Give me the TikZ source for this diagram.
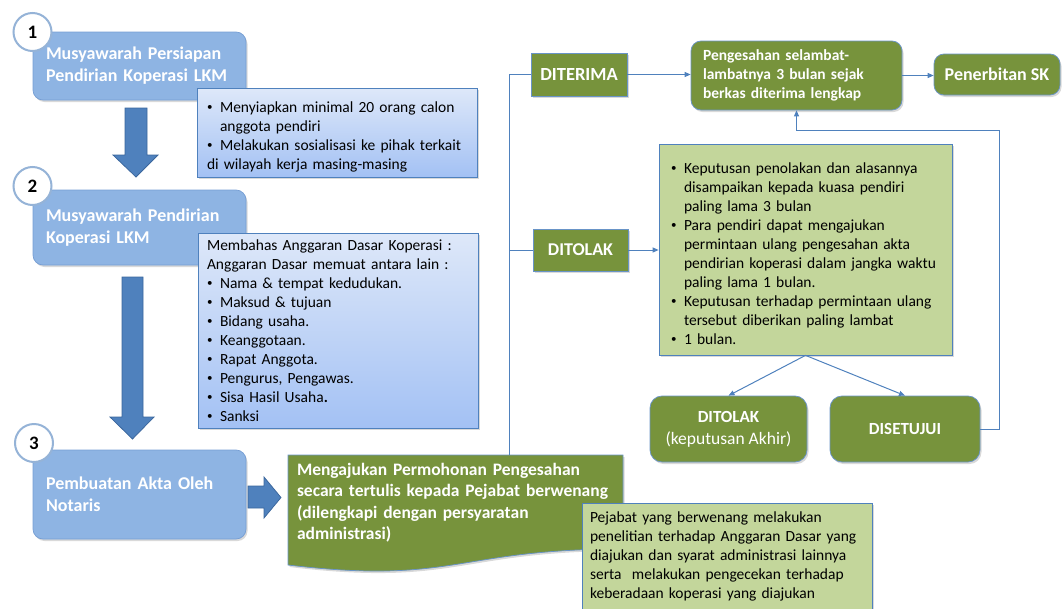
\documentclass[tikz,border=0pt]{standalone}
\usepackage{fontspec}
\setmainfont{Carlito}
\usetikzlibrary{arrows.meta,shadows}

\definecolor{boxblue}{RGB}{142,180,227}
\definecolor{boxblueline}{RGB}{118,158,212}
\definecolor{arrblue}{RGB}{79,129,189}
\definecolor{arrblueline}{RGB}{58,102,156}
\definecolor{olive}{RGB}{119,147,60}
\definecolor{palegreen}{RGB}{195,214,155}
\definecolor{linkblue}{RGB}{79,129,189}
\definecolor{desctop}{RGB}{222,232,249}
\definecolor{descbot}{RGB}{163,193,244}
\definecolor{ringblue}{RGB}{149,179,215}

% butir dengan indentasi gantung; \newline di dalam butir
\newcommand{\itm}{\par\hangindent=13pt\hangafter=1\noindent\makebox[13pt][l]{\raisebox{0.12em}{\fontsize{11}{11}\selectfont\textbullet}}}

\tikzset{every picture/.style={line width=0.75pt}}
\tikzset{
  bayang/.style={drop shadow={shadow xshift=1.5pt,shadow yshift=-2pt,opacity=0.3}},
  stepbox/.style={rounded corners=10pt, draw=boxblueline, fill=boxblue, text=white, align=left,
    inner xsep=13pt, text width=187pt, font=\bfseries\fontsize{18}{22}\selectfont, bayang},
  numcircle/.style={circle, draw=ringblue, line width=2pt, fill=white, minimum size=38pt,
    inner sep=0pt, font=\bfseries\fontsize{19}{19}\selectfont},
  descbox/.style={draw=linkblue, top color=desctop, bottom color=descbot, align=left,
    inner xsep=10pt, font=\fontsize{15.5}{19}\selectfont, bayang},
  notebox/.style={draw=linkblue, fill=palegreen, align=left, font=\fontsize{15.5}{19}\selectfont, bayang},
  okbox/.style={draw=linkblue!85, fill=olive, text=white, align=center,
    font=\bfseries\fontsize{18}{22}\selectfont, bayang},
  blockarrow/.style={fill=arrblue, draw=arrblueline},
  konektor/.style={draw=linkblue, line width=1pt},
  panah/.style={konektor, -{Triangle[length=6pt,width=5pt]}}
}

\begin{document}
\begin{tikzpicture}[x=1pt,y=-1pt]
\useasboundingbox (0,0) rectangle (1063,608);

% Langkah 1
\node[stepbox, minimum height=68pt] (musy1) at (139.5,66) {Musyawarah Persiapan\\Pendirian Koperasi LKM};
\node[descbox, text width=260pt, minimum height=89pt] (siap) at (337,132.5)
  {\itm Menyiapkan minimal 20 orang calon\newline anggota pendiri\itm Melakukan sosialisasi ke pihak terkait\newline di wilayah kerja masing-masing};

% Langkah 2
\node[stepbox, minimum height=75pt] (musy2) at (139.5,227.5) {Musyawarah Pendirian\\Koperasi LKM};
\node[descbox, text width=262pt, inner xsep=9pt, minimum height=195pt] (ad) at (338,330.5)
  {Membahas Anggaran Dasar Koperasi :\\Anggaran Dasar memuat antara lain :\itm Nama \& tempat kedudukan.\itm Maksud \& tujuan\itm Bidang usaha.\itm Keanggotaan.\itm Rapat Anggota.\itm Pengurus, Pengawas.\itm Sisa Hasil Usaha\textbf{.}\itm Sanksi};

% Langkah 3
\node[stepbox, minimum height=89pt] (akta) at (139.5,494.5) {Pembuatan Akta Oleh\\Notaris};

% Nomor
\node[numcircle] (n1) at (32.5,32) {1};
\node[numcircle] (n2) at (32.5,186) {2};
\node[numcircle] (n3) at (34,443) {3};

%Block Arrows
\draw[blockarrow] (125,108) -- (147,108) -- (147,155) -- (158,155) -- (136,177) -- (113,155) -- (125,155) -- cycle;
\draw[blockarrow] (122,277) -- (143,277) -- (143,417) -- (154,417) -- (132.5,439) -- (110,417) -- (122,417) -- cycle;
\draw[blockarrow] (248,486) -- (264,486) -- (264,477) -- (281,497.5) -- (264,518) -- (264,508) -- (248,508) -- cycle;

% Permohonan (document shape)
\draw[fill=olive, draw=linkblue!85, bayang] (288,455) -- (623,455) -- (623,549) .. controls (455.5,549) and (455.5,585) .. (288,565) -- cycle;
\node[text=white, align=left, text width=317pt, inner xsep=9pt, minimum height=95pt,
  font=\bfseries\fontsize{17.5}{21.5}\selectfont] (ajuan) at (455.5,502.5)
  {Mengajukan Permohonan Pengesahan\\secara tertulis kepada Pejabat berwenang\\(dilengkapi dengan persyaratan\\administrasi)};
\node[notebox, text width=274pt, inner xsep=8pt, minimum height=106pt] (teliti) at (727,556)
  {Pejabat yang berwenang melakukan\\penelitian terhadap Anggaran Dasar yang\\diajukan dan syarat administrasi lainnya\\serta~ melakukan pengecekan terhadap\\keberadaan koperasi yang diajukan};

% Keputusan
\node[okbox, minimum width=96pt, minimum height=43pt, font=\bfseries\fontsize{18.5}{22}\selectfont] (diterima) at (579,74.5) {DITERIMA};
\node[okbox, rounded corners=10pt, align=left, text width=187pt, inner xsep=12pt, minimum height=69pt,
  font=\bfseries\fontsize{15.5}{19}\selectfont] (sah) at (796.5,75.5)
  {Pengesahan selambat-\\lambatnya 3 bulan sejak\\berkas diterima lengkap};
\node[okbox, rounded corners=10pt, minimum width=126pt, minimum height=41pt] (sk) at (997,74.5) {Penerbitan SK};
\node[okbox, minimum width=95pt, minimum height=42pt] (tolak) at (580.5,250) {DITOLAK};
\node[notebox, text width=269pt, inner xsep=12pt, minimum height=211pt] (info) at (805.5,249.5)
  {\itm Keputusan penolakan dan alasannya\newline disampaikan kepada kuasa pendiri\newline paling lama 3 bulan\itm Para pendiri dapat mengajukan\newline permintaan ulang pengesahan akta\newline pendirian koperasi dalam jangka waktu\newline paling lama 1 bulan.\itm Keputusan terhadap permintaan ulang\newline tersebut diberikan paling lambat\itm 1 bulan.};
\node[okbox, rounded corners=12pt, minimum width=157pt, minimum height=66pt,
  font=\bfseries\fontsize{17}{22}\selectfont] (akhir) at (728.5,429)
  {DITOLAK\\{\mdseries\fontsize{17.5}{22}\selectfont(keputusan Akhir)}};
\node[okbox, rounded corners=12pt, minimum width=150pt, minimum height=66pt,
  font=\bfseries\fontsize{17}{22}\selectfont] (setuju) at (905,429) {DISETUJUI};

%Straight Lines
\coordinate (trunk) at (509,0);
\coordinate (balik) at (999,130);
\draw[konektor] (ajuan.north -| trunk) -- (trunk |- diterima.west) -- (diterima.west);
\draw[konektor] (trunk |- tolak.west) -- (tolak.west);
\draw[panah] (diterima.east) -- (diterima.east -| sah.west);
\draw[panah] (sah.east) -- (sah.east -| sk.west);
\draw[panah] (tolak.east) -- (tolak.east -| info.west);
\draw[panah] (info.south) -- (akhir.north);
\draw[panah] (info.south) -- (setuju.north);
\draw[panah] (setuju.east) -| (balik) -| (sah.south);

\end{tikzpicture}
\end{document}
